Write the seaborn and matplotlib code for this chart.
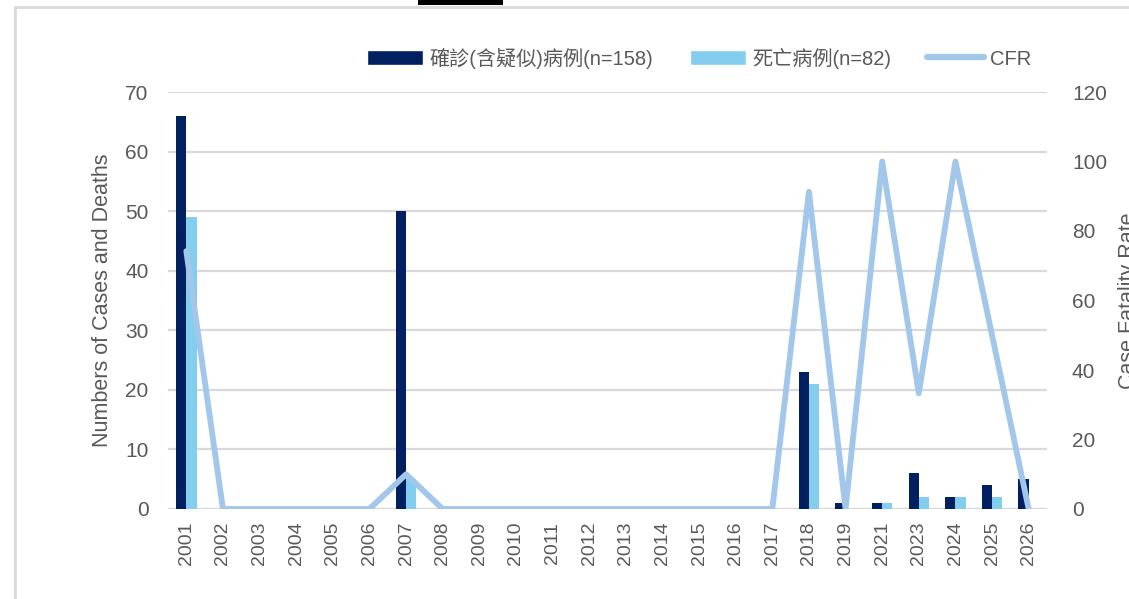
import numpy as np
import pandas as pd
import seaborn as sns
import matplotlib.pyplot as plt
from matplotlib.patches import Patch, Rectangle
from matplotlib.lines import Line2D

# data
years = ['2001', '2002', '2003', '2004', '2005', '2006', '2007', '2008', '2009', '2010',
         '2011', '2012', '2013', '2014', '2015', '2016', '2017', '2018', '2019', '2021',
         '2023', '2024', '2025', '2026']
cases = [66, 0, 0, 0, 0, 0, 50, 0, 0, 0, 0, 0, 0, 0, 0, 0, 0, 23, 1, 1, 6, 2, 4, 5]
deaths = [49, 0, 0, 0, 0, 0, 5, 0, 0, 0, 0, 0, 0, 0, 0, 0, 0, 21, 0, 1, 2, 2, 2, 0]
cfr = [74.2, 0, 0, 0, 0, 0, 10.0, 0, 0, 0, 0, 0, 0, 0, 0, 0, 0, 91.3, 0, 100.0,
       33.3, 100.0, 50.0, 0]

case_label = '確診(含疑似)病例(n=158)'
death_label = '死亡病例(n=82)'
cfr_label = 'CFR'

dark = '#002060'
light = '#83CDEE'
line_c = '#A3C7EA'
grey = '#595959'
grid_c = '#D9D9D9'

sns.set_theme(style='white')
plt.rcParams['font.family'] = ['Liberation Sans', 'Noto Sans CJK TC', 'DejaVu Sans']

df = pd.DataFrame({
    'year': years * 2,
    'series': [case_label] * len(years) + [death_label] * len(years),
    'value': cases + deaths,
})

fig = plt.figure(figsize=(11.29, 5.99), dpi=100)
ax = fig.add_axes([168 / 1129, 1 - 509 / 599, 879 / 1129, 417 / 599])

sns.barplot(data=df, x='year', y='value', hue='series', order=years,
            palette=[dark, light], width=0.56, gap=0, ax=ax, legend=False,
            saturation=1, linewidth=0)
ax.set_ylim(0, 70)
ax.set_yticks(range(0, 71, 10))
ax.set_xlim(-0.5, len(years) - 0.5)
ax.yaxis.grid(True, color=grid_c, linewidth=1.6)
ax.set_axisbelow(True)
for s in ax.spines.values():
    s.set_visible(False)
ax.axhline(0, color=grid_c, linewidth=1.6, zorder=0)
ax.set_xlabel('')
ax.set_ylabel('Numbers of Cases and Deaths', fontsize=15.5, color=grey, labelpad=9)
ax.tick_params(axis='y', colors=grey, labelsize=15, length=0, pad=14)
ax.tick_params(axis='x', colors=grey, labelsize=14, length=0, pad=9, labelrotation=90)

ax2 = ax.twinx()
sns.pointplot(x=years, y=cfr, order=years, ax=ax2, color=line_c, markers='',
              linewidth=4.2, errorbar=None)
ax2.set_ylim(0, 120)
ax2.set_yticks(range(0, 121, 20))
ax2.set_xlim(-0.5, len(years) - 0.5)
for s in ax2.spines.values():
    s.set_visible(False)
ax2.tick_params(axis='y', colors=grey, labelsize=15, length=0, pad=18)
ax2.set_ylabel('Case Fatality Rate', fontsize=15.5, color=grey, labelpad=8)

handles = [Patch(facecolor=dark, label=case_label),
           Patch(facecolor=light, label=death_label),
           Line2D([], [], color=line_c, linewidth=4.5, label=cfr_label)]
fig.legend(handles=handles, loc='center', bbox_to_anchor=(699 / 1129, 1 - 58 / 599),
           ncol=3, frameon=False, fontsize=14.5, labelcolor=grey,
           handlelength=2.8, handleheight=0.75, handletextpad=0.3,
           columnspacing=1.8)

# frame of the screenshot
fig.add_artist(Rectangle((15 / 1129, -0.1), 1.2, 1 - 7 / 599 + 0.1, transform=fig.transFigure,
                         fill=False, edgecolor=grid_c, linewidth=2))
fig.add_artist(Rectangle((418 / 1129, 1 - 5 / 599), 85 / 1129, 5 / 599,
                         transform=fig.transFigure, facecolor='black', edgecolor='none'))

fig.savefig('out.png', dpi=100)
